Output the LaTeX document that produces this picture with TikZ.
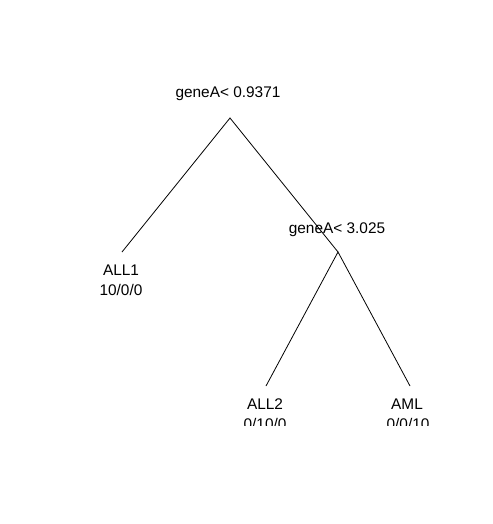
\documentclass[tikz,border=0pt]{standalone}
\usepackage{fontspec}
\setmainfont{Liberation Sans}
\begin{document}
\begin{tikzpicture}[x=1pt,y=-1pt,
  lbl/.style={anchor=base,inner sep=0pt,font=\fontsize{15.4}{18}\selectfont},
  edge/.style={draw=black,line width=0.8pt}]
\useasboundingbox[fill=white] (0,0) rectangle (492,524);
\coordinate (root) at (230,118);
\coordinate (leaf1) at (122,252);
\coordinate (split2) at (338,252);
\coordinate (leaf2) at (266,386);
\coordinate (leaf3) at (410,386);
\draw[edge] (leaf1) -- (root) -- (split2);
\draw[edge] (leaf2) -- (split2) -- (leaf3);
\begin{scope}
\clip (0,0) rectangle (492,425);
\node[lbl] (t1) at (228,98) {geneA< 0.9371};
\node[lbl] (t2) at (337,233) {geneA< 3.025};
\node[lbl] (a1) at (121,275) {ALL1};
\node[lbl] (b1) at (121,295) {10/0/0};
\node[lbl] (a2) at (265,409) {ALL2};
\node[lbl] (b2) at (265,429) {0/10/0};
\node[lbl] (a3) at (407,409) {AML};
\node[lbl] (b3) at (408,429) {0/0/10};
\end{scope}
\end{tikzpicture}
\end{document}
